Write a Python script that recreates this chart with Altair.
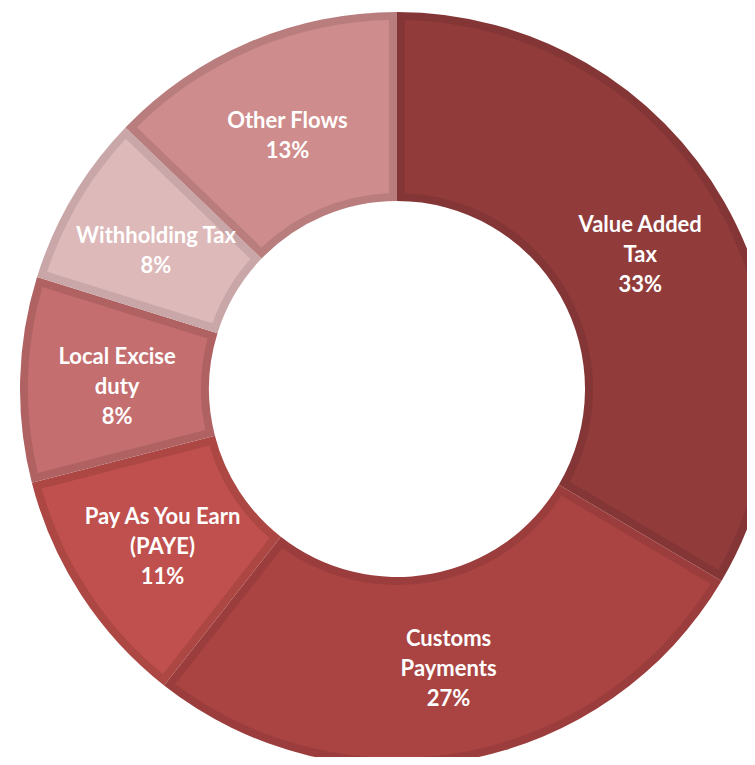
import altair as alt
import pandas as pd

categories = ["Value Added Tax", "Customs Payments", "Pay As You Earn (PAYE)",
              "Local Excise duty", "Withholding Tax", "Other Flows"]
label_lines = ["Value Added|Tax", "Customs|Payments", "Pay As You Earn|(PAYE)",
               "Local Excise|duty", "Withholding Tax", "Other Flows"]
shares = [33.5, 27.1, 10.4, 8.8, 7.4, 12.8]
pct_labels = ["33%", "27%", "11%", "8%", "8%", "13%"]
fill_colors = ["#913B3B", "#A94442", "#C0504D", "#C46E70", "#DDB9B9", "#CF8C8C"]
border_colors = ["#843535", "#9B3D3C", "#AC4744", "#B06263", "#C9A7A8", "#B97D7E"]

df = pd.DataFrame({
    "cat": categories,
    "cat_fill": categories,
    "lab": [l + "|" + p for l, p in zip(label_lines, pct_labels)],
    "share": shares,
    "idx": list(range(len(categories))),
})

CX, CY = 389, 381
R_OUT, R_IN = 377, 188
B = 8
LH = 30
TOTAL = sum(shares)

base = alt.Chart(df).encode(
    theta=alt.Theta("share:Q", stack=True),
    order=alt.Order("idx:Q"),
    x=alt.value(CX),
    y=alt.value(CY),
)

border = base.mark_arc(radius=R_OUT, radius2=R_IN).encode(
    color=alt.Color("cat:N", scale=alt.Scale(domain=categories, range=border_colors), legend=None)
)

pad_r = ((R_OUT - B) ** 2 + (R_IN + B) ** 2) ** 0.5
fill = base.mark_arc(radius=R_OUT - B, radius2=R_IN + B, padAngle=2 * B / pad_r).encode(
    fill=alt.Fill("cat_fill:N", scale=alt.Scale(domain=categories, range=fill_colors), legend=None)
)

text_base = alt.Chart(df).transform_window(
    s1="sum(share)", sort=[alt.SortField("idx", order="ascending")]
).transform_calculate(
    mid="datum.s1 - datum.share / 2",
    lines="split(datum.lab, '|')",
)

def text_layer(n_lines):
    return text_base.transform_filter(
        f"length(datum.lines) == {n_lines}"
    ).mark_text(
        font="Lato", fontWeight="bold", fontSize=22, color="white",
        lineHeight=LH, align="center", baseline="middle",
        dy=-(n_lines - 1) * LH / 2 + 5,
    ).encode(
        theta=alt.Theta("mid:Q", scale=alt.Scale(domain=[0, TOTAL]), stack=None),
        text="lines:N",
        radius=alt.value(280),
        x=alt.value(CX),
        y=alt.value(CY),
    )

chart = alt.layer(border, fill, text_layer(2), text_layer(3)).resolve_scale(
    color="independent", fill="independent", theta="independent"
).properties(
    width=739, height=749,
    autosize=alt.AutoSizeParams(type="none"),
    padding=0,
).configure_view(stroke=None)

chart.save("out.html", embed_options={"renderer": "svg", "actions": False})
